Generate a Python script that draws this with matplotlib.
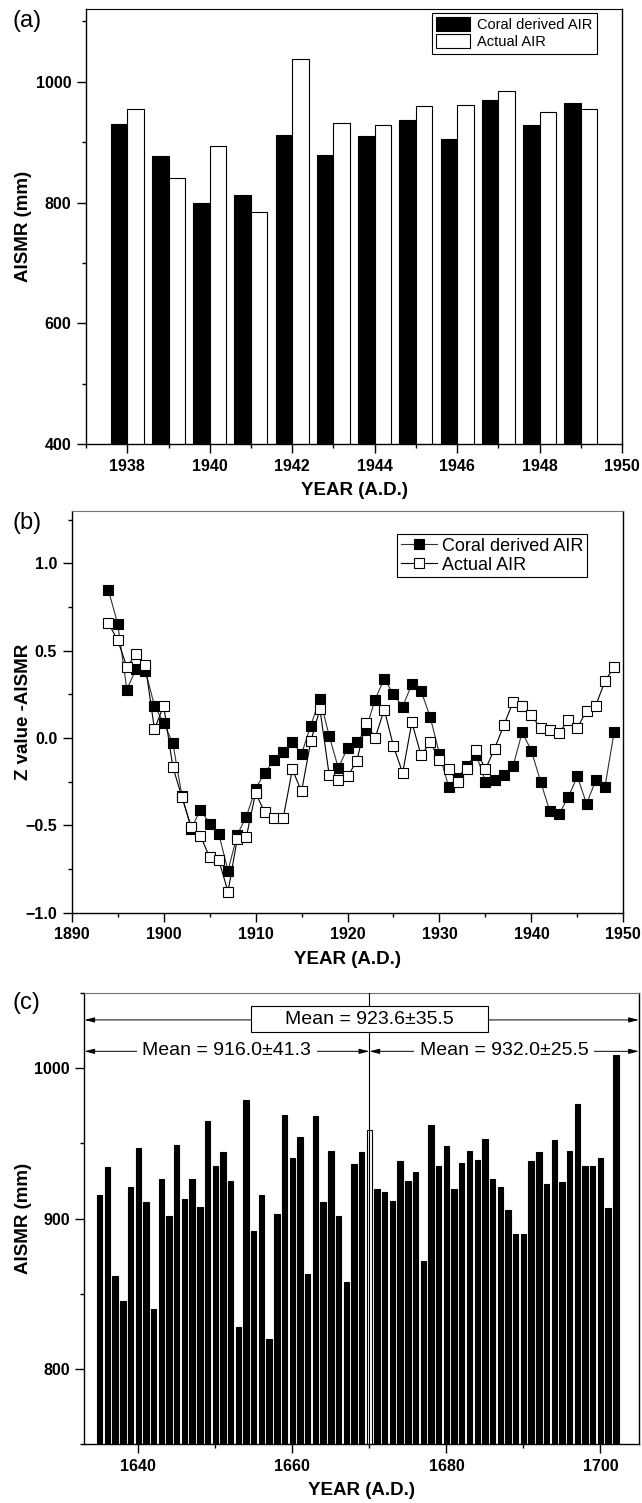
import numpy as np
import matplotlib.pyplot as plt
from matplotlib.patches import Rectangle
from matplotlib.ticker import MultipleLocator

plt.rcParams['font.family'] = ['Liberation Sans', 'DejaVu Sans']

# ---- (a) coral derived vs actual AISMR, 1938-1949
years_a = np.arange(1938, 1950)
coral_a = [930, 877, 800, 813, 912, 878, 910, 937, 905, 970, 928, 964]
actual_a = [955, 840, 893, 785, 1037, 931, 929, 960, 962, 984, 950, 955]

# ---- (b) Z values, 1894-1949
years_b = np.arange(1894, 1950)
coral_b = [0.845, 0.654, 0.277, 0.396, 0.386, 0.185, 0.086, -0.029, -0.335, -0.52,
           -0.41, -0.49, -0.55, -0.76, -0.555, -0.45, -0.29, -0.20, -0.128, -0.082,
           -0.023, -0.092, 0.071, 0.224, 0.013, -0.172, -0.057, -0.023, 0.048, 0.22,
           0.34, 0.249, 0.18, 0.308, 0.27, 0.119, -0.092, -0.28, -0.23, -0.16,
           -0.096, -0.25, -0.24, -0.214, -0.163, 0.033, -0.073, -0.25, -0.417, -0.436,
           -0.34, -0.22, -0.377, -0.243, -0.28, 0.033]
actual_b = [0.656, 0.56, 0.407, 0.48, 0.42, 0.05, 0.185, -0.166, -0.34, -0.509,
            -0.56, -0.683, -0.70, -0.88, -0.58, -0.565, -0.315, -0.426, -0.46, -0.46,
            -0.18, -0.306, -0.02, 0.166, -0.21, -0.243, -0.22, -0.134, 0.086, 0.0,
            0.162, -0.048, -0.2, 0.09, -0.10, -0.025, -0.124, -0.18, -0.25, -0.178,
            -0.067, -0.18, -0.061, 0.073, 0.205, 0.185, 0.13, 0.057, 0.048, 0.029,
            0.10, 0.057, 0.157, 0.185, 0.325, 0.407]

# ---- (c) reconstructed AISMR, 1635-1702
years_c = np.arange(1635, 1703)
aismr_c = [916, 934, 862, 845, 921, 947, 911, 840, 926, 902,
           949, 913, 926, 908, 965, 935, 944, 925, 828, 979,
           892, 916, 820, 903, 969, 940, 954, 863, 968, 911,
           945, 902, 858, 936, 944, 959,
           920, 918, 912, 938, 925, 931, 872, 962, 935, 948,
           920, 937, 945, 939, 953, 926, 921, 906, 890, 890,
           938, 944, 923, 952, 924, 945, 976, 935, 935, 940,
           907, 1009]
split_year = 1670
mean_all = 'Mean = 923.6\u00b135.5'
mean_early = 'Mean = 916.0\u00b141.3'
mean_late = 'Mean = 932.0\u00b125.5'

fig = plt.figure(figsize=(6.42, 15.03), dpi=100)
ax_a = fig.add_axes([0.134, 0.7046, 0.835, 0.2892])
ax_b = fig.add_axes([0.1117, 0.3928, 0.8592, 0.2673])
ax_c = fig.add_axes([0.1313, 0.0393, 0.864, 0.2999])


def style(ax, top_color='k'):
    ax.tick_params(which='major', direction='out', length=6.5, width=1,
                   labelsize=11.5, pad=4, top=False, right=False)
    ax.tick_params(which='minor', direction='out', length=3, width=1,
                   top=False, right=False)
    for s in ax.spines.values():
        s.set_linewidth(1)
    ax.spines['top'].set_color(top_color)
    ax.spines['top'].set_linewidth(0.8)


# (a)
ax_a.bar(years_a - 0.2, coral_a, width=0.4, color='k', edgecolor='k', lw=0.8,
         label='Coral derived AIR')
ax_a.bar(years_a + 0.2, actual_a, width=0.4, color='white', edgecolor='k', lw=0.8,
         label='Actual AIR')
ax_a.set_xlim(1937, 1950)
ax_a.set_ylim(400, 1120)
ax_a.xaxis.set_major_locator(MultipleLocator(2))
ax_a.xaxis.set_minor_locator(MultipleLocator(1))
ax_a.yaxis.set_major_locator(MultipleLocator(200))
ax_a.yaxis.set_minor_locator(MultipleLocator(100))
style(ax_a)
leg = ax_a.legend(loc='upper right', bbox_to_anchor=(0.953, 0.992), borderaxespad=0,
                  fontsize=10.5, fancybox=False, edgecolor='k', framealpha=1,
                  handlelength=2.3, handleheight=1.1, borderpad=0.3,
                  labelspacing=0.15, handletextpad=0.5)
leg.get_frame().set_linewidth(0.8)
ax_a.set_xlabel('YEAR (A.D.)', fontsize=13.5, fontweight='bold', labelpad=6)
ax_a.set_ylabel('AISMR (mm)', fontsize=13.5, fontweight='bold', va='center')
ax_a.yaxis.set_label_coords(-0.1175, 0.5)

# (b)
ax_b.plot(years_b, coral_b, '-s', color='0.2', mfc='k', mec='k', ms=6.5, mew=0.8,
          lw=0.8, label='Coral derived AIR')
ax_b.plot(years_b, actual_b, '-s', color='k', mfc='white', mec='k', ms=6.5, mew=0.8,
          lw=0.8, label='Actual AIR')
ax_b.set_xlim(1890, 1950)
ax_b.set_ylim(-1.0, 1.3)
ax_b.xaxis.set_major_locator(MultipleLocator(10))
ax_b.xaxis.set_minor_locator(MultipleLocator(5))
ax_b.yaxis.set_major_locator(MultipleLocator(0.5))
ax_b.yaxis.set_minor_locator(MultipleLocator(0.25))
ax_b.yaxis.set_major_formatter('{x:.1f}')
style(ax_b, top_color='0.45')
leg = ax_b.legend(loc='upper right', bbox_to_anchor=(0.9347, 0.942), borderaxespad=0,
                  fontsize=13, fancybox=False, edgecolor='k', framealpha=1,
                  handlelength=2.0, borderpad=0.2, labelspacing=0.1,
                  handletextpad=0.3)
leg.get_frame().set_linewidth(0.8)
ax_b.set_xlabel('YEAR (A.D.)', fontsize=13.5, fontweight='bold', labelpad=6)
ax_b.set_ylabel('Z value -AISMR', fontsize=13.5, fontweight='bold', va='center')
ax_b.yaxis.set_label_coords(-0.0883, 0.5)

# (c)
fills = ['white' if y == split_year else 'k' for y in years_c]
ax_c.bar(years_c, aismr_c, width=0.7, color=fills, edgecolor='k', lw=0.8, zorder=2)
ax_c.set_xlim(1633, 1705)
ax_c.set_ylim(750, 1050)
ax_c.xaxis.set_major_locator(MultipleLocator(20))
ax_c.xaxis.set_minor_locator(MultipleLocator(10))
ax_c.yaxis.set_major_locator(MultipleLocator(100))
ax_c.yaxis.set_minor_locator(MultipleLocator(50))
style(ax_c, top_color='0.45')
ax_c.axvline(split_year, color='k', lw=0.8, zorder=3)

arrow = dict(arrowstyle='<|-|>,head_length=0.6,head_width=0.15', color='k',
             lw=0.7, mutation_scale=10, shrinkA=0, shrinkB=0)
x0, x1 = ax_c.get_xlim()
ax_c.annotate('', xy=(x0, 1032.2), xytext=(x1, 1032.2), arrowprops=arrow, zorder=4)
ax_c.add_patch(Rectangle((1654.6, 1024), 30.8, 17.5, facecolor='white',
                         edgecolor='k', lw=0.8, zorder=5))
ax_c.text(split_year, 1032.8, mean_all, fontsize=14, ha='center', va='center', zorder=6)

ax_c.annotate('', xy=(x0, 1011.3), xytext=(split_year, 1011.3), arrowprops=arrow, zorder=4)
ax_c.annotate('', xy=(split_year, 1011.3), xytext=(x1, 1011.3), arrowprops=arrow, zorder=4)
pad_box = dict(boxstyle='square,pad=0.3', facecolor='white', edgecolor='none')
ax_c.text((x0 + split_year) / 2, 1011.8, mean_early, fontsize=14, ha='center',
          va='center', bbox=pad_box, zorder=6)
ax_c.text((split_year + x1) / 2, 1011.8, mean_late, fontsize=14, ha='center',
          va='center', bbox=pad_box, zorder=6)
ax_c.set_xlabel('YEAR (A.D.)', fontsize=13.5, fontweight='bold', labelpad=6)
ax_c.set_ylabel('AISMR (mm)', fontsize=13.5, fontweight='bold', va='center')
ax_c.yaxis.set_label_coords(-0.1105, 0.5)

for ax in (ax_a, ax_b, ax_c):
    plt.setp(ax.get_xticklabels() + ax.get_yticklabels(), fontweight='bold')

fig.text(13 / 642, 1 - 21 / 1503, '(a)', fontsize=17, ha='left', va='center')
fig.text(13 / 642, 1 - 523 / 1503, '(b)', fontsize=17, ha='left', va='center')
fig.text(13 / 642, 1 - 1003 / 1503, '(c)', fontsize=17, ha='left', va='center')

fig.savefig('out.png', dpi=100)
